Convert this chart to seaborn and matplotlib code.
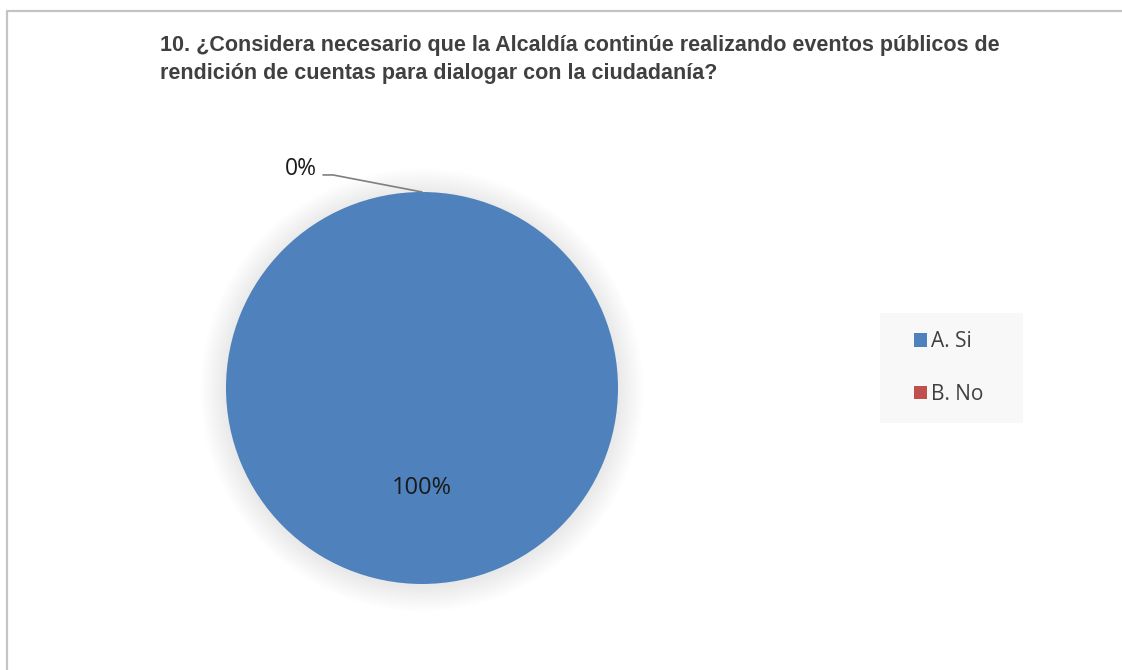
import matplotlib
matplotlib.use('Agg')
import matplotlib.pyplot as plt
import seaborn as sns
from matplotlib.patches import Circle, Rectangle, Patch
from matplotlib.lines import Line2D

# datos del gráfico
categorias = ['A. Si', 'B. No']
valores = [100, 0]
etiquetas = ['100%', '0%']
colores = ['#4F81BD', '#C0504D']
titulo_1 = '10. ¿Considera necesario que la Alcaldía continúe realizando eventos públicos de'
titulo_2 = 'rendición de cuentas para dialogar con la ciudadanía?'

sns.set_theme(style='white')
plt.rcParams['font.family'] = ['Liberation Sans', 'DejaVu Sans']
paleta = sns.color_palette(colores)

W, H = 1122, 670
fig = plt.figure(figsize=(W / 100, H / 100), dpi=100)
fig.patch.set_facecolor('white')

# marco gris del área del gráfico (cortado a la derecha y abajo)
fig.add_artist(Line2D([7 / W, 1.01], [1 - 11 / H, 1 - 11 / H], color='#C4C4C4', lw=1.6))
fig.add_artist(Line2D([7 / W, 7 / W], [-0.01, 1 - 11 / H], color='#C4C4C4', lw=1.6))

# título en dos líneas
fig.text(160 / W, 1 - 46 / H, titulo_1, fontsize=15.5, fontweight='bold', color='#404040',
         ha='left', va='center')
fig.text(160 / W, 1 - 73 / H, titulo_2, fontsize=15.5, fontweight='bold', color='#404040',
         ha='left', va='center')

# ejes de la torta: 196 px por unidad de radio, centro en (422, 388)
r_px = 196
lim = 1.3
cx, cy = 422, H - 388
ax = fig.add_axes([(cx - lim * r_px) / W, (cy - lim * r_px) / H,
                   2 * lim * r_px / W, 2 * lim * r_px / H])

# sombra difusa alrededor de la torta
n_capas = 22
for i in range(n_capas):
    ax.add_patch(Circle((0, -0.01), 1.0 + 0.006 * (n_capas - i), color='black',
                        alpha=0.0048, lw=0, zorder=0))

wedges, _ = ax.pie(valores, colors=paleta, startangle=90, counterclock=False,
                   radius=1, wedgeprops=dict(linewidth=0))
for w in wedges:
    w.set_zorder(2)

# etiquetas de datos
fuente = ['Open Sans', 'DejaVu Sans']
ax.text(0, -0.51, etiquetas[0], fontsize=17, color='#1A1A1A', ha='center', va='center',
        family=fuente, zorder=3)
ax.text(-0.62, 1.115, etiquetas[1], fontsize=16.5, color='#1A1A1A', ha='center', va='center',
        family=fuente, zorder=3)
ax.plot([-0.505, -0.454, 0.0], [1.087, 1.087, 1.0], color='#7F7F7F', lw=1.2,
        clip_on=False, zorder=3)

ax.set_xlim(-lim, lim)
ax.set_ylim(-lim, lim)
ax.axis('off')

# leyenda con fondo gris claro
fig.add_artist(Rectangle((880 / W, 1 - 423 / H), 143 / W, 110 / H,
                         transform=fig.transFigure, facecolor='#F8F8F8',
                         edgecolor='none', zorder=0))
handles = [Patch(facecolor=c, edgecolor='none') for c in paleta]
fig.legend(handles, categorias, loc='center left',
           bbox_to_anchor=(914 / W, 1 - 368 / H), frameon=False,
           prop={'family': fuente, 'size': 15}, labelcolor='#404040',
           handlelength=0.6, handleheight=0.6, handletextpad=0.2,
           labelspacing=1.5, borderpad=0, borderaxespad=0)

plt.savefig('out.png', dpi=100, facecolor='white')
